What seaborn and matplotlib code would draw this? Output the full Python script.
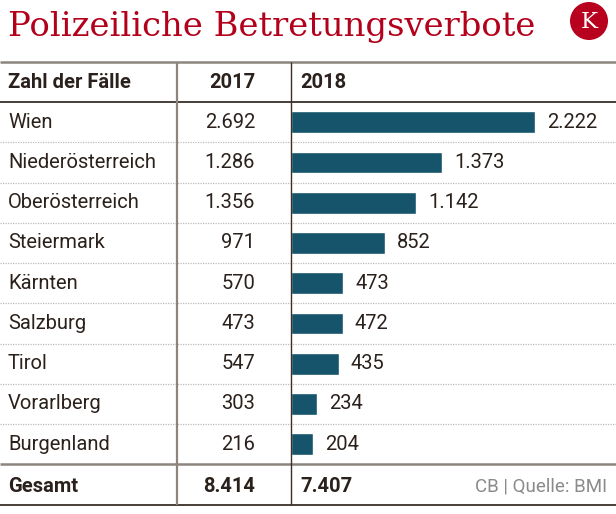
import matplotlib
matplotlib.use("Agg")
import matplotlib.pyplot as plt
import seaborn as sns
import pandas as pd
from matplotlib.patches import Circle

# ---- data ----
regions = ["Wien", "Niederösterreich", "Oberösterreich", "Steiermark", "Kärnten",
           "Salzburg", "Tirol", "Vorarlberg", "Burgenland"]
values_2017 = [2692, 1286, 1356, 971, 570, 473, 547, 303, 216]
values_2018 = [2222, 1373, 1142, 852, 473, 472, 435, 234, 204]
total_label = "Gesamt"
total_2017 = 8414
total_2018 = 7407
header_labels = ["Zahl der Fälle", "2017", "2018"]
title = "Polizeiliche Betretungsverbote"
source = "CB | Quelle: BMI"


def fmt(v):
    return f"{v:,}".replace(",", ".")


W, H = 616, 514
TXT = "#2b211c"
RED = "#b3001b"
BAR = "#15546b"
GRAY_LINE = "#8c857e"
DARK_LINE = "#3a2f29"
FS = 14.5
FONT = ["Roboto", "DejaVu Sans"]

sns.set_theme(style="white")
plt.rcParams["font.family"] = FONT

fig = plt.figure(figsize=(W / 100, H / 100), dpi=100, facecolor="white")

# layout (pixels)
top_line = 62
head_line = 102
total_line = 464.3
bottom_line = 505
col1_x = 177
col2_x = 291
row_h = (total_line - head_line) / len(regions)
px_per_unit = 0.1098

# ---- bars ----
df = pd.DataFrame({"region": regions, "v2018": values_2018})
ax = fig.add_axes([col2_x / W, 1 - total_line / H, (W - col2_x) / W, (total_line - head_line) / H])
sns.barplot(data=df, x="v2018", y="region", orient="h", color=BAR, saturation=1,
            width=0.54, ax=ax)
ax.set_xlim(0, (W - col2_x) / px_per_unit)
ax.bar_label(ax.containers[0], labels=[fmt(v) for v in values_2018], padding=8.7,
             fontsize=FS, color=TXT, family=FONT)
ax.axis("off")

# ---- overlay in pixel coordinates ----
ov = fig.add_axes([0, 0, 1, 1])
ov.set_xlim(0, W)
ov.set_ylim(H, 0)
ov.axis("off")
ov.patch.set_alpha(0)

# title + logo
t = ov.text(8, 35.7, title, fontsize=23.5, color=RED, family=["DejaVu Serif"],
            va="baseline", ha="left")
fig.canvas.draw()
bb = t.get_window_extent()
target_w = 535 - 8
t.set_fontsize(23.5 * target_w / bb.width)

ov.add_patch(Circle((589, 21), 19, color="#b8001f", lw=0))
ov.text(589, 22, "K", fontsize=16.5, color="white", family=["DejaVu Serif"],
        ha="center", va="center")

# horizontal lines
ov.plot([0, W], [top_line, top_line], color=GRAY_LINE, lw=1.8, solid_capstyle="butt")
ov.plot([0, W], [head_line, head_line], color=DARK_LINE, lw=1.3, solid_capstyle="butt")
ov.plot([0, W], [total_line, total_line], color=GRAY_LINE, lw=1.8, solid_capstyle="butt")
ov.plot([0, W], [bottom_line, bottom_line], color=DARK_LINE, lw=1.3, solid_capstyle="butt")
for k in range(1, len(regions)):
    y = head_line + k * row_h
    ov.plot([0, W], [y, y], color="#bdbdbd", lw=0.9, linestyle=(0, (1, 1)))

# vertical lines
ov.plot([col1_x, col1_x], [top_line, bottom_line], color=GRAY_LINE, lw=1.6, solid_capstyle="butt")
ov.plot([col2_x, col2_x], [top_line, bottom_line], color=DARK_LINE, lw=1.0, solid_capstyle="butt")

# header
hy = (top_line + head_line) / 2 + 1
ov.text(8, hy, header_labels[0], fontsize=FS, weight="bold", color=TXT, va="center")
ov.text(255, hy, header_labels[1], fontsize=FS, weight="bold", color=TXT, va="center", ha="right")
ov.text(300, hy, header_labels[2], fontsize=FS, weight="bold", color=TXT, va="center", ha="left")

# rows
for i, (r, v) in enumerate(zip(regions, values_2017)):
    y = head_line + (i + 0.5) * row_h
    ov.text(8, y, r, fontsize=FS, color=TXT, va="center")
    ov.text(255, y, fmt(v), fontsize=FS, color=TXT, va="center", ha="right")

# total
ty = (total_line + bottom_line) / 2 + 2
ov.text(8, ty, total_label, fontsize=FS, weight="bold", color=TXT, va="center")
ov.text(255, ty, fmt(total_2017), fontsize=FS, weight="bold", color=TXT, va="center", ha="right")
ov.text(300, ty, fmt(total_2018), fontsize=FS, weight="bold", color=TXT, va="center", ha="left")
ov.text(607, ty, source, fontsize=FS - 1, color="#8a8a8a", va="center", ha="right")

fig.savefig("out.png", dpi=100, facecolor="white")
